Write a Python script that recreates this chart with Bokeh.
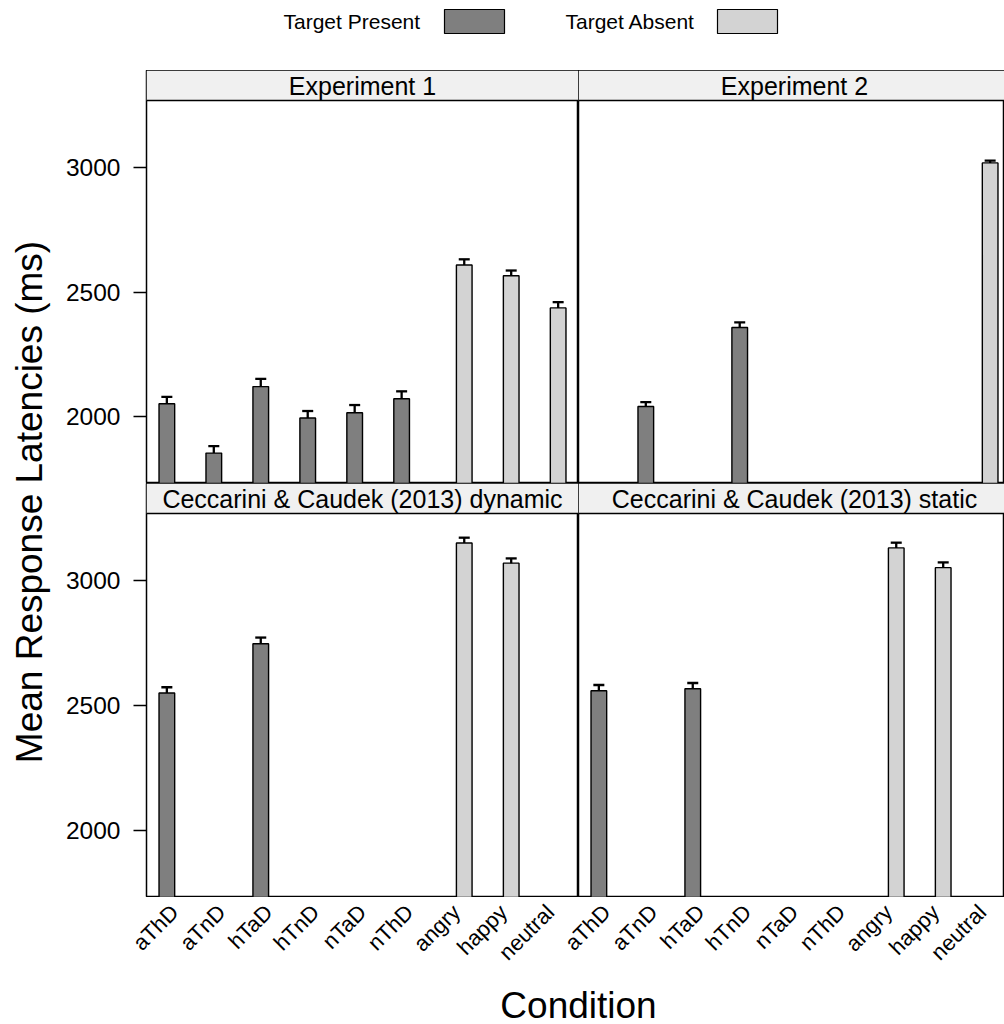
from math import pi
from bokeh.plotting import figure
from bokeh.models import (ColumnDataSource, Range1d, FixedTicker, Whisker, TeeHead,
                          BoxAnnotation, Span, Label)
from bokeh.transform import dodge
from bokeh.layouts import column, row
from bokeh.embed import file_html
from bokeh.resources import INLINE

# ---------------- data ----------------
CONDITIONS = ["aThD", "aTnD", "hTaD", "hTnD", "nTaD", "nThD", "angry", "happy", "neutral"]
COND_GROUP = ["Target Present"] * 6 + ["Target Absent"] * 3
GROUPS = ["Target Present", "Target Absent"]
PANELS = ["Experiment 1", "Experiment 2",
          "Ceccarini & Caudek (2013) dynamic", "Ceccarini & Caudek (2013) static"]

exp1_mean = [2052, 1854, 2121, 1995, 2016, 2072, 2609, 2566, 2437]
exp1_se = [28, 28, 31, 28, 31, 30, 23, 21, 23]
exp2_mean = [None, 2041, None, 2358, None, None, None, None, 3019]
exp2_se = [None, 18, None, 21, None, None, None, None, 9]
dyn_mean = [2551, None, 2748, None, None, None, 3152, 3071, None]
dyn_se = [23, None, 25, None, None, None, 21, 19, None]
stat_mean = [2560, None, 2568, None, None, None, 3132, 3053, None]
stat_se = [23, None, 23, None, None, None, 21, 21, None]

Y_TICKS = [2000, 2500, 3000]
Y_LABEL = "Mean Response Latencies (ms)"
X_LABEL = "Condition"

# ---------------- style / layout ----------------
FONT = "Liberation Sans"
COLORS = {"Target Present": "#7F7F7F", "Target Absent": "#D3D3D3"}
STRIP_FILL = "#F0F0F0"
Y_MIN, Y_MAX, STRIP_Y = 1732, 3390, 3270
STRIP_TEXT_Y = 3328
X_START = 0.4
X_SPAN = 9.2                      # x units covered by one full panel
PANEL_W = 432
PX_PER_UNIT = PANEL_W / X_SPAN
PAGE_W = 1004
LEFT_BORDER = 84
YLAB_W = 62
PANEL_LEFT = YLAB_W + LEFT_BORDER  # page x of left panel frame
RIGHT_W = PAGE_W - PANEL_LEFT - PANEL_W
TOP_H = 413
BOT_H = 414
LEG_H = 70
AX_H = 123
AX_LEFT = 152
OFFSETS = {"Target Present": -1 / 6, "Target Absent": 1 / 6}


def make_panel(title, means, ses, is_left):
    frame_w = PANEL_W if is_left else RIGHT_W
    x_end = X_START + frame_w / PX_PER_UNIT
    p = figure(width=frame_w + (LEFT_BORDER if is_left else 0),
               height=TOP_H if title in PANELS[:2] else BOT_H,
               x_range=Range1d(X_START, x_end), y_range=Range1d(Y_MIN, Y_MAX),
               output_backend="svg", toolbar_location=None, tools="",
               x_axis_location=None,
               y_axis_location="left" if is_left else None,
               min_border_left=LEFT_BORDER if is_left else 0, min_border_right=0,
               min_border_top=0, min_border_bottom=0)
    p.grid.visible = False
    p.outline_line_color = "black"
    p.outline_line_width = 1.5
    p.background_fill_color = "white"
    p.border_fill_color = "white"

    # strip
    p.add_layout(BoxAnnotation(bottom=STRIP_Y, fill_color=STRIP_FILL, fill_alpha=1,
                               line_color=None, level="underlay"))
    p.add_layout(Span(location=STRIP_Y, dimension="width", line_color="black", line_width=1.5))
    p.add_layout(Label(x=5, y=STRIP_TEXT_Y, text=title, text_align="center",
                       text_baseline="middle", text_font=FONT, text_font_size="25px",
                       text_color="black"))

    for g in GROUPS:
        idx = [i for i in range(len(CONDITIONS)) if COND_GROUP[i] == g and means[i] is not None]
        if not idx:
            continue
        src = ColumnDataSource(dict(
            x=[i + 1 for i in idx],
            cond=[CONDITIONS[i] for i in idx],
            mean=[means[i] for i in idx],
            lower=[means[i] - ses[i] for i in idx],
            upper=[means[i] + ses[i] for i in idx],
        ))
        off = OFFSETS[g]
        p.vbar(x=dodge("x", off), top="mean", bottom=0, width=1 / 3, source=src,
               fill_color=COLORS[g], line_color="black", line_width=1.4)
        w = Whisker(source=src, base=dodge("x", off), upper="upper", lower="lower",
                    line_color="black", line_width=2.3)
        w.upper_head = TeeHead(size=11, line_color="black", line_width=2.3)
        w.lower_head = TeeHead(size=11, line_color="black", line_width=2.3)
        p.add_layout(w)

    if is_left:
        ax = p.yaxis[0]
        ax.ticker = FixedTicker(ticks=Y_TICKS)
        ax.major_tick_out = 13
        ax.major_tick_in = 0
        ax.minor_tick_out = 0
        ax.minor_tick_in = 0
        ax.major_tick_line_width = 1.3
        ax.major_tick_line_color = "black"
        ax.axis_line_color = None
        ax.major_label_standoff = 13
        ax.major_label_text_font = FONT
        ax.major_label_text_font_size = "24.5px"
        ax.major_label_text_color = "black"
    return p


tl = make_panel(PANELS[0], exp1_mean, exp1_se, True)
tr = make_panel(PANELS[1], exp2_mean, exp2_se, False)
bl = make_panel(PANELS[2], dyn_mean, dyn_se, True)
br = make_panel(PANELS[3], stat_mean, stat_se, False)


def blank(w, h, left=0):
    # frame starts at page x = left; x data units are page pixels
    f = figure(width=w, height=h, x_range=Range1d(left, w), y_range=Range1d(h, 0),
               output_backend="svg", toolbar_location=None, tools="",
               x_axis_location=None, y_axis_location=None, min_border=0,
               min_border_left=left)
    f.grid.visible = False
    f.outline_line_color = None
    return f


# legend (key text left of swatch, as in the original)
leg = blank(PAGE_W, LEG_H, AX_LEFT)
leg_text_x = [283, 565]
leg_box_x = [444, 717]
for g, tx in zip(GROUPS, leg_text_x):
    leg.add_layout(Label(x=tx, y=21, text=g, text_align="left", text_baseline="middle",
                         text_font=FONT, text_font_size="21px", text_color="black"))
leg.quad(left=leg_box_x, right=[b + 60 for b in leg_box_x], top=[9, 9], bottom=[33, 33],
         fill_color=[COLORS[g] for g in GROUPS], line_color="black", line_width=1.2)

ylab = blank(YLAB_W, TOP_H + BOT_H)
ylab.add_layout(Label(x=28.5, y=431.5, text=Y_LABEL, angle=pi / 2, text_align="center",
                      text_baseline="middle", text_font=FONT, text_font_size="37px",
                      text_color="black"))

# shared x axis of the two bottom panels (the right panel's categories shifted by X_SPAN)
ax_start = X_START + (AX_LEFT - PANEL_LEFT) / PX_PER_UNIT
ax_end = X_START + (PAGE_W - PANEL_LEFT) / PX_PER_UNIT
axfig = figure(width=PAGE_W, height=AX_H, x_range=Range1d(ax_start, ax_end),
               y_range=Range1d(0, 1), output_backend="svg", toolbar_location=None, tools="",
               x_axis_location="below", y_axis_location=None,
               min_border_left=AX_LEFT, min_border_right=0, min_border_top=0,
               min_border_bottom=AX_H - 1)
axfig.grid.visible = False
axfig.outline_line_color = None
ticks, overrides = [], {}
for shift in (0.0, X_SPAN):
    for i, c in enumerate(CONDITIONS):
        t = i + 1 + shift
        ticks.append(t)
        overrides[t] = c
xa = axfig.xaxis[0]
xa.ticker = FixedTicker(ticks=ticks)
xa.major_label_overrides = overrides
xa.major_label_orientation = pi / 4
xa.major_tick_out = 0
xa.major_tick_in = 0
xa.minor_tick_out = 0
xa.minor_tick_in = 0
xa.axis_line_color = None
xa.major_label_standoff = 11
xa.major_label_text_font = FONT
xa.major_label_text_font_size = "22px"
xa.major_label_text_color = "black"
xa.axis_label = X_LABEL
xa.axis_label_text_font = FONT
xa.axis_label_text_font_size = "37px"
xa.axis_label_text_font_style = "normal"
xa.axis_label_text_color = "black"
xa.axis_label_standoff = 8

layout = column(leg, row(ylab, column(row(tl, tr), row(bl, br))), axfig)

open("out.html", "w").write(file_html(layout, INLINE))
